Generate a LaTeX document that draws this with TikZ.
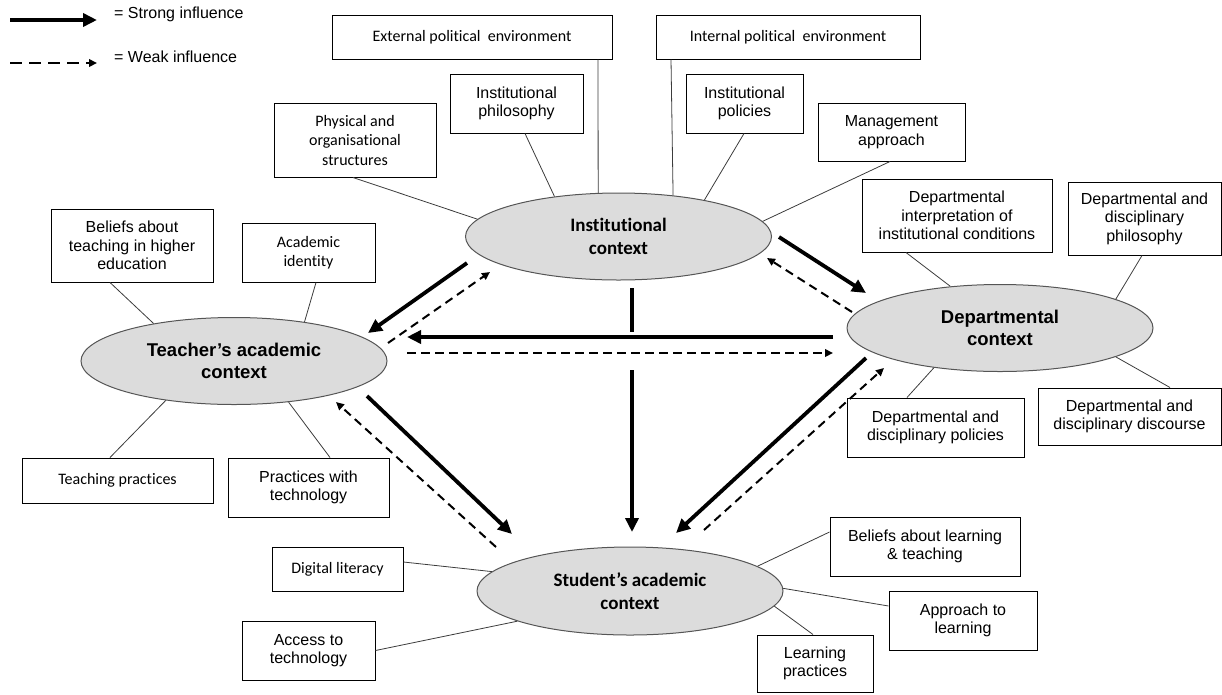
\documentclass[tikz,border=0pt]{standalone}
\usepackage{fontspec}
\setmainfont{Liberation Sans}
\newfontfamily\calfont[Ligatures=NoCommon]{Carlito}
\usetikzlibrary{arrows.meta,shapes.geometric,calc}
\definecolor{ellfill}{RGB}{220,220,220}
\definecolor{ellline}{RGB}{85,85,85}
\definecolor{linkc}{RGB}{60,60,60}
\begin{document}
\begin{tikzpicture}[x=1pt,y=-1pt,
  box/.style={draw=black, line width=1pt, fill=white, inner sep=0pt, align=center, font=\fontsize{16}{18.5}\selectfont},
  calbox/.style={box, font=\calfont\fontsize{16}{19.5}\selectfont},
  ell/.style={ellipse, draw=ellline, line width=1pt, fill=ellfill, inner sep=0pt, minimum width=306pt, minimum height=87pt, align=center},
  link/.style={draw=linkc, line width=0.8pt},
  strong/.style={line width=3.8pt, -{Triangle[length=14pt,width=13pt]}},
  strongplain/.style={line width=3.8pt},
  weak/.style={line width=2pt, dash pattern=on 8.5pt off 5.5pt, -{Triangle[length=8pt,width=7.5pt]}},
  legtext/.style={anchor=west, inner sep=0pt, font=\fontsize{16}{18}\selectfont}
]
\useasboundingbox (0,0) rectangle (1222,694);

% legend
\coordinate (ls1) at (10,20); \coordinate (ls2) at (97,20);
\coordinate (lw1) at (10,63); \coordinate (lw2) at (97,63);
\draw[strong] (ls1) -- (ls2);
\draw[weak, dash pattern=on 12pt off 7pt] (lw1) -- (lw2);
\node[legtext] (lstrong) at (114,14) {= Strong influence};
\node[legtext] (lweak) at (114,57) {= Weak influence};

% ellipses
\node[ell, font=\calfont\bfseries\fontsize{19}{23}\selectfont] (inst) at (618.5,236.5) {Institutional\\context};
\node[ell, font=\bfseries\fontsize{18.5}{22}\selectfont] (teach) at (234,361) {Teacher’s academic\\context};
\node[ell, font=\bfseries\fontsize{18.5}{22}\selectfont] (dept) at (1000,328) {Departmental\\context};
\node[ell, font=\calfont\bfseries\fontsize{19}{23}\selectfont, minimum height=88pt] (stud) at (630,591) {Student’s academic\\context};

% institutional boxes
\node[calbox, minimum width=280pt, minimum height=44pt] (ext) at (472,37) {External political\ \ environment};
\node[calbox, minimum width=264pt, minimum height=44pt] (int) at (788,37) {Internal political\ \ environment};
\node[calbox, minimum width=162pt, minimum height=74pt] (phys) at (355,140) {Physical and\\organisational\\structures};
\node[box, minimum width=133pt, minimum height=59pt] (iphil) at (516.5,103.5) {Institutional\\philosophy};
\node[box, minimum width=117pt, minimum height=59pt] (ipol) at (744.5,103.5) {Institutional\\policies};
\node[box, minimum width=147pt, minimum height=58pt] (mgmt) at (891.5,132) {Management\\approach};

% teacher boxes
\node[box, minimum width=162pt, minimum height=73pt] (tbel) at (132,245.5) {Beliefs about\\teaching in higher\\education};
\node[calbox, minimum width=133pt, minimum height=59pt] (tid) at (308.5,252.5) {Academic\\identity};
\node[calbox, minimum width=191pt, minimum height=45pt] (tpr) at (117.5,480.5) {Teaching practices};
\node[box, minimum width=161pt, minimum height=59pt] (ttech) at (308.5,487.5) {Practices with\\technology};

% departmental boxes
\node[box, minimum width=190pt, minimum height=73pt] (dint) at (957,215.5) {Departmental\\interpretation of\\institutional conditions};
\node[box, minimum width=153pt, minimum height=73pt] (dphil) at (1144.5,218.5) {Departmental and\\disciplinary\\philosophy};
\node[box, minimum width=177pt, minimum height=59pt] (dpol) at (935.5,427.5) {Departmental and\\disciplinary policies};
\node[box, minimum width=183pt, minimum height=57pt] (ddis) at (1129.5,416.5) {Departmental and\\disciplinary discourse};

% student boxes
\node[calbox, minimum width=131pt, minimum height=44pt] (sdig) at (337.5,569) {Digital literacy};
\node[box, minimum width=133pt, minimum height=59pt] (sacc) at (308.5,650.5) {Access to\\technology};
\node[box, minimum width=190pt, minimum height=59pt] (sbel) at (925,546.5) {Beliefs about learning\\\& teaching};
\node[box, minimum width=148pt, minimum height=59pt] (sapp) at (963,620.5) {Approach to\\learning};
\node[box, minimum width=116pt, minimum height=57pt] (slp) at (815,663.5) {Learning\\practices};

% links institutional
\draw[link] (phys.south -| 353,0) -- (inst.173.5);
\draw[link] (iphil.south -| 525,0) -- (inst.148.6);
\draw[link] (ext.south -| 598,0) -- (inst.115.4);
\draw[link] (int.south -| 671,0) -- (inst.37.8);
\draw[link] (ipol.south -| 744,0) -- (inst.23.6);
\draw[link] (mgmt.south -| 890,0) -- (inst.6);

% links teacher
\draw[link] (tbel.south -| 110,0) -- (teach.155.5);
\draw[link] (tid.south -| 316,0) -- (teach.29.8);
\draw[link] (tpr.north -| 110,0) -- (teach.210.7);
\draw[link] (ttech.north -| 330,0) -- (teach.-37.6);

% links departmental
\draw[link] (dint.south -| 906,0) -- (dept.140.6);
\draw[link] (dphil.south -| 1142,0) -- (dept.14.5);
\draw[link] (dpol.north -| 907,0) -- (dept.211.2);
\draw[link] (ddis.north -| 1170,0) -- (dept.-14);

% links student
\draw[link] (sdig.east |- 0,562) -- (stud.172.2);
\draw[link] (sacc.east) -- (stud.195.5);
\draw[link] (sbel.west |- 0,532) -- (stud.11.2);
\draw[link] (sapp.west |- 0,606) -- (stud.1);
\draw[link] (slp.north -| 813,0) -- (stud.-6.2);

% influence arrows
\draw[strong] ($(inst)+(-151.5,26.5)$) -- ($(teach)+(134,-28)$);
\draw[weak] ($(teach)+(154,-18)$) -- ($(inst)+(-128.5,35.5)$);
\draw[strong] ($(dept)+(-167,9)$) -- ($(teach)+(173,-24)$);
\draw[weak] ($(teach)+(173,-8)$) -- ($(dept)+(-167,25)$);
\draw[strong] ($(inst)+(160.5,0.5)$) -- ($(dept)+(-134,-35)$);
\draw[weak] ($(dept)+(-148,-16)$) -- ($(inst)+(148.5,21.5)$);
\draw[strongplain] ($(inst)+(13.5,51.5)$) -- ($(inst)+(13.5,95.5)$);
\draw[strong] ($(stud)+(2,-221)$) -- ($(stud)+(2,-59)$);
\draw[strong] ($(teach)+(133,35)$) -- ($(stud)+(-118,-57)$);
\draw[weak] ($(stud)+(-134,-44)$) -- ($(teach)+(102,41)$);
\draw[strong] ($(dept)+(-134,30)$) -- ($(stud)+(46,-58)$);
\draw[weak] ($(stud)+(74,-61)$) -- ($(dept)+(-116,40)$);
\end{tikzpicture}
\end{document}
